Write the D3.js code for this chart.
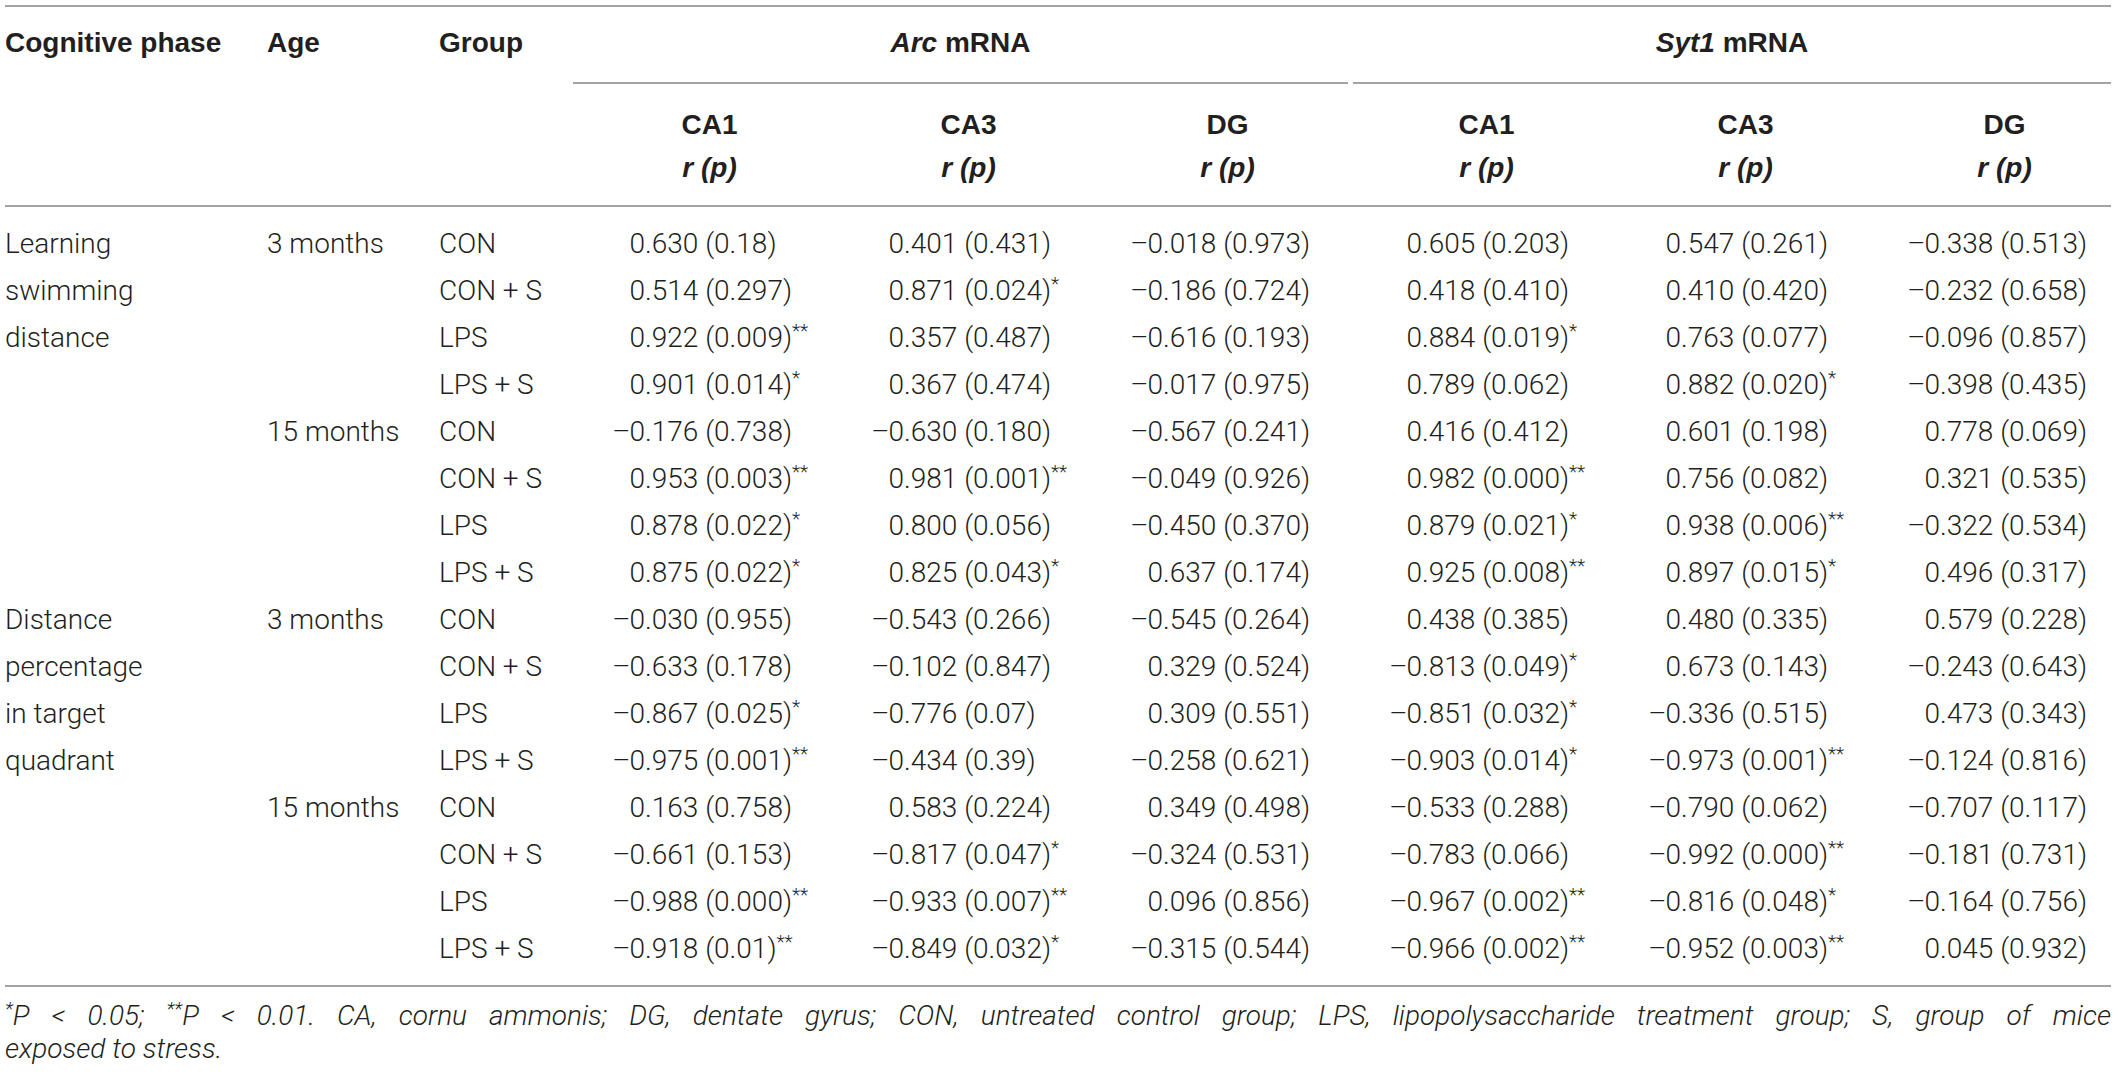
<!DOCTYPE html>
<meta charset="utf-8">
<style>
body{ margin: 0; background: #fff; }
svg{ display: block; background: #fff; }
text{ fill: #231f20; }
.hd{ font-family: "Liberation Sans", Arial, sans-serif; font-weight: bold; font-size: 28px; }
.bd{ font-family: Roboto, "Liberation Sans", sans-serif; font-weight: 300; font-size: 28px; }
.rule{ stroke: #a3a3a3; stroke-width: 2; }
</style>
<div id="table"></div>
<script src="https://cdn.jsdelivr.net/npm/d3@7"></script>
<script>

// column headers
var genes = ['Arc', 'Syt1']
var regions = ['CA1', 'CA3', 'DG']
var leftHeads = ['Cognitive phase', 'Age', 'Group']

// row labels
var phases = [['Learning', 'swimming', 'distance'], ['Distance', 'percentage', 'in target', 'quadrant']]
var ages = ['3 months', '15 months']
var groups = ['CON', 'CON + S', 'LPS', 'LPS + S']

// r values, columns: Arc CA1, Arc CA3, Arc DG, Syt1 CA1, Syt1 CA3, Syt1 DG
var rValues = [
  [ 0.630,  0.401, -0.018,  0.605,  0.547, -0.338],
  [ 0.514,  0.871, -0.186,  0.418,  0.410, -0.232],
  [ 0.922,  0.357, -0.616,  0.884,  0.763, -0.096],
  [ 0.901,  0.367, -0.017,  0.789,  0.882, -0.398],
  [-0.176, -0.630, -0.567,  0.416,  0.601,  0.778],
  [ 0.953,  0.981, -0.049,  0.982,  0.756,  0.321],
  [ 0.878,  0.800, -0.450,  0.879,  0.938, -0.322],
  [ 0.875,  0.825,  0.637,  0.925,  0.897,  0.496],
  [-0.030, -0.543, -0.545,  0.438,  0.480,  0.579],
  [-0.633, -0.102,  0.329, -0.813,  0.673, -0.243],
  [-0.867, -0.776,  0.309, -0.851, -0.336,  0.473],
  [-0.975, -0.434, -0.258, -0.903, -0.973, -0.124],
  [ 0.163,  0.583,  0.349, -0.533, -0.790, -0.707],
  [-0.661, -0.817, -0.324, -0.783, -0.992, -0.181],
  [-0.988, -0.933,  0.096, -0.967, -0.816, -0.164],
  [-0.918, -0.849, -0.315, -0.966, -0.952,  0.045]
]

// p values as printed (decimals vary)
var pValues = [
  ['0.18',  '0.431', '0.973', '0.203', '0.261', '0.513'],
  ['0.297', '0.024', '0.724', '0.410', '0.420', '0.658'],
  ['0.009', '0.487', '0.193', '0.019', '0.077', '0.857'],
  ['0.014', '0.474', '0.975', '0.062', '0.020', '0.435'],
  ['0.738', '0.180', '0.241', '0.412', '0.198', '0.069'],
  ['0.003', '0.001', '0.926', '0.000', '0.082', '0.535'],
  ['0.022', '0.056', '0.370', '0.021', '0.006', '0.534'],
  ['0.022', '0.043', '0.174', '0.008', '0.015', '0.317'],
  ['0.955', '0.266', '0.264', '0.385', '0.335', '0.228'],
  ['0.178', '0.847', '0.524', '0.049', '0.143', '0.643'],
  ['0.025', '0.07',  '0.551', '0.032', '0.515', '0.343'],
  ['0.001', '0.39',  '0.621', '0.014', '0.001', '0.816'],
  ['0.758', '0.224', '0.498', '0.288', '0.062', '0.117'],
  ['0.153', '0.047', '0.531', '0.066', '0.000', '0.731'],
  ['0.000', '0.007', '0.856', '0.002', '0.048', '0.756'],
  ['0.01',  '0.032', '0.544', '0.002', '0.003', '0.932']
]

var stars = [
  ['',   '',   '', '',   '',   ''],
  ['',   '*',  '', '',   '',   ''],
  ['**', '',   '', '*',  '',   ''],
  ['*',  '',   '', '',   '*',  ''],
  ['',   '',   '', '',   '',   ''],
  ['**', '**', '', '**', '',   ''],
  ['*',  '',   '', '*',  '**', ''],
  ['*',  '*',  '', '**', '*',  ''],
  ['',   '',   '', '',   '',   ''],
  ['',   '',   '', '*',  '',   ''],
  ['*',  '',   '', '*',  '',   ''],
  ['**', '',   '', '*',  '**', ''],
  ['',   '',   '', '',   '',   ''],
  ['',   '*',  '', '',   '**', ''],
  ['**', '**', '', '**', '*',  ''],
  ['**', '*',  '', '**', '**', '']
]

var footLine1 = '*P < 0.05; **P < 0.01. CA, cornu ammonis; DG, dentate gyrus; CON, untreated control group; LPS, lipopolysaccharide treatment group; S, group of mice'
var footLine2 = 'exposed to stress.'

var width = 2117, height = 1073
var left = 5, right = 2111

var svg = d3.select('#table').html('')
  .append('svg')
    .attr('width', width)
    .attr('height', height)

var colKeys = []
genes.forEach(function(g){ regions.forEach(function(r){ colKeys.push(g + ' ' + r) }) })

var x = d3.scaleBand().domain(colKeys).range([580, 2134])
var bw = x.bandwidth()
var y = d3.scalePoint().domain(d3.range(rValues.length)).range([253, 958])
var leftX = d3.scaleOrdinal().domain(leftHeads).range([5, 267, 439])

// rules
function rule(x1, x2, yy){
  svg.append('line').attr('class', 'rule')
    .attr('x1', x1).attr('x2', x2).attr('y1', yy).attr('y2', yy)
}
rule(left, right, 6)
rule(left, right, 206)
rule(left, right, 986)

// gene spans
genes.forEach(function(g, gi){
  var x1 = x(g + ' ' + regions[0]) - (gi ? 4 : 7)
  var x2 = gi ? right : x(genes[1] + ' ' + regions[0]) - 9
  rule(x1, x2, 83)
  var t = svg.append('text').attr('class', 'hd')
      .attr('x', (x1 + x2) / 2).attr('y', 52)
      .attr('text-anchor', 'middle')
  t.append('tspan').style('font-style', 'italic').text(g)
  t.append('tspan').text(' mRNA')
})

leftHeads.forEach(function(h){
  svg.append('text').attr('class', 'hd')
      .attr('x', leftX(h)).attr('y', 52).text(h)
})

colKeys.forEach(function(k){
  var cx = x(k) + bw / 2
  svg.append('text').attr('class', 'hd')
      .attr('x', cx).attr('y', 134).attr('text-anchor', 'middle')
      .text(k.split(' ')[1])
  svg.append('text').attr('class', 'hd')
      .attr('x', cx).attr('y', 177).attr('text-anchor', 'middle')
      .style('font-style', 'italic')
      .text('r (p)')
})

// left labels
phases.forEach(function(lines, pi){
  lines.forEach(function(l, li){
    svg.append('text').attr('class', 'bd')
        .attr('x', leftX('Cognitive phase')).attr('y', y(pi * 8 + li)).text(l)
  })
  ages.forEach(function(a, ai){
    svg.append('text').attr('class', 'bd')
        .attr('x', leftX('Age')).attr('y', y(pi * 8 + ai * 4)).text(a)
    groups.forEach(function(g, gi){
      svg.append('text').attr('class', 'bd')
          .attr('x', leftX('Group')).attr('y', y(pi * 8 + ai * 4 + gi)).text(g)
    })
  })
})

// values, digits aligned, minus hanging to the left
var fmt = d3.format('.3f')
rValues.forEach(function(row, ri){
  row.forEach(function(r, ci){
    var x0 = x(colKeys[ci]) + bw / 2 - 80
    if (r < 0){
      svg.append('text').attr('class', 'bd')
          .attr('x', x0 + 1).attr('y', y(ri)).attr('text-anchor', 'end')
          .text('\u2013')
    }
    var t = svg.append('text').attr('class', 'bd')
        .attr('x', x0).attr('y', y(ri))
    t.append('tspan').text(fmt(Math.abs(r)) + ' (' + pValues[ri][ci] + ')')
    if (stars[ri][ci]){
      t.append('tspan').attr('dy', -10).style('font-size', '19px').text(stars[ri][ci])
    }
  })
})

// footnote, first line justified
function footWord(w, xx, yy){
  var t = svg.append('text').attr('class', 'bd')
      .style('font-style', 'italic')
      .attr('x', xx).attr('y', yy)
  var m = w.match(/^(\*+)(.*)$/)
  if (m){
    t.append('tspan').attr('dy', -10).style('font-size', '19px').text(m[1])
    t.append('tspan').attr('dy', 10).text(m[2])
  } else {
    t.text(w)
  }
  return t
}
var words = footLine1.split(' ')
var nodes = words.map(function(w){ return footWord(w, 0, 1025) })
var widths = nodes.map(function(n){ return n.node().getComputedTextLength() })
var gap = (right - left - d3.sum(widths)) / (words.length - 1)
var cur = left
nodes.forEach(function(n, i){
  n.attr('x', cur)
  cur += widths[i] + gap
})
footWord(footLine2, left, 1058)

</script>
